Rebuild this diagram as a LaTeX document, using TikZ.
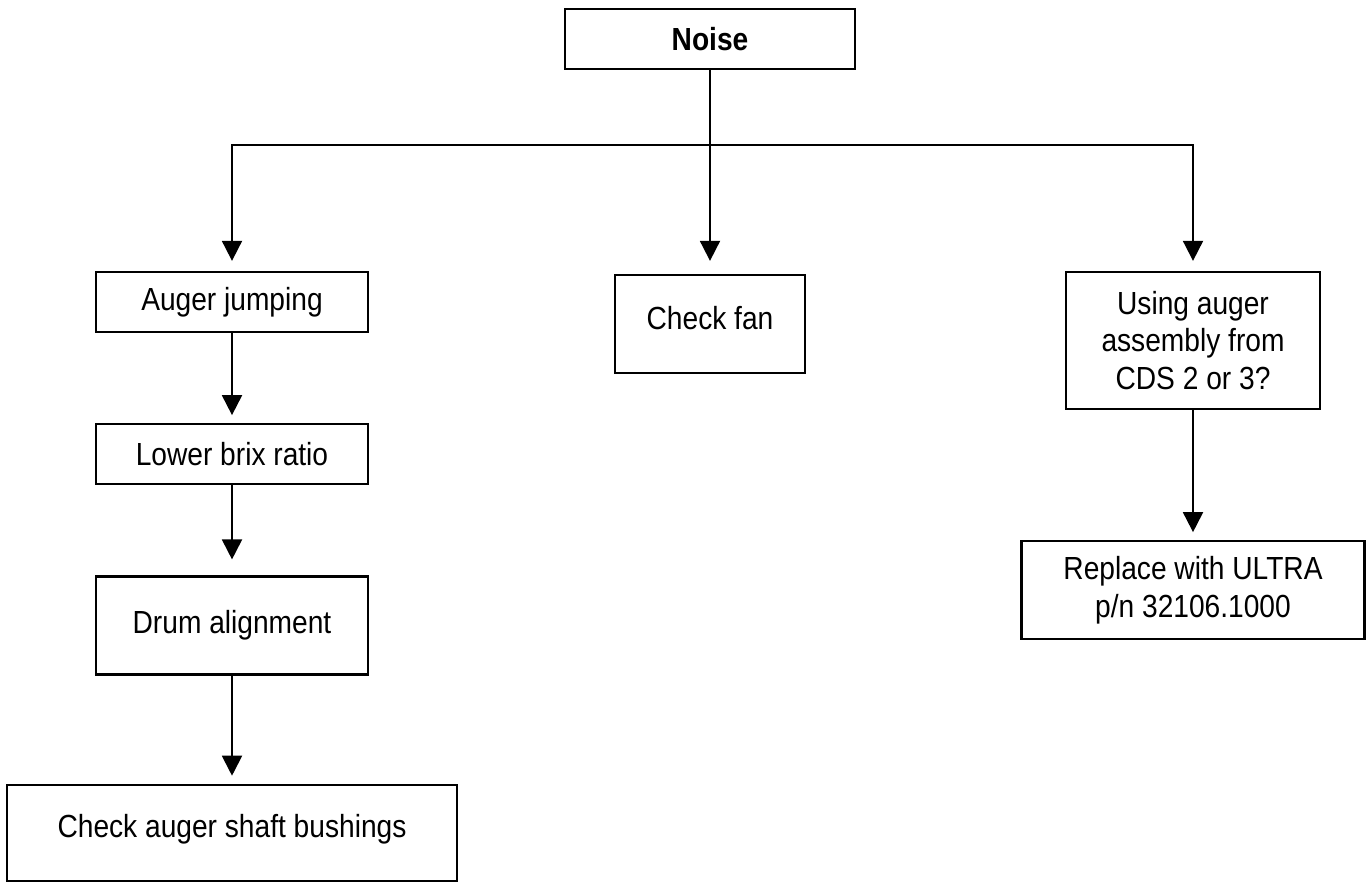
\documentclass[tikz,border=0pt]{standalone}
\usepackage{fontspec}
\setmainfont[FakeStretch=0.88]{Liberation Sans}
\usetikzlibrary{arrows.meta,positioning}

\begin{document}
\begin{tikzpicture}[
  box/.style={draw, line width=1.3pt, align=center, minimum width=5.44cm, minimum height=1.2cm, inner sep=2pt, font=\fontsize{18.2}{21.3}\selectfont},
  arr/.style={-{Triangle[length=0.4cm, width=0.4cm]}, line width=1.1pt, shorten >=0.16cm}
]
\useasboundingbox (0,0) rectangle (27.34,17.72);

\node[box, minimum width=5.8cm, font=\fontsize{18.2}{21.3}\selectfont\bfseries] (n) at (14.2,16.94) {Noise};
\coordinate (bus) at (0,14.82);

% left branch
\node[box] (aj) at (4.64,11.68) {Auger jumping};
\node[box, below=1.8cm of aj] (lb) {Lower brix ratio};
\node[box, below=1.8cm of lb, minimum height=1.96cm] (da) {Drum alignment};
\node[box, below=2.16cm of da, minimum width=9cm, minimum height=1.92cm, text depth=0.29cm] (cb) {Check auger shaft bushings};

% middle and right branch
\node[box, minimum width=3.8cm, minimum height=1.96cm, text depth=0.24cm] (f) at (14.2,11.24) {Check fan};
\node[box, minimum width=5.08cm, minimum height=2.74cm] (uq) at (23.86,10.91) {Using auger\\assembly from\\CDS 2 or 3?};
\node[box, below=2.6cm of uq, minimum width=6.86cm, minimum height=1.96cm] (rp) {Replace with ULTRA\\p/n 32106.1000};

\draw[arr, shorten >=0.2cm] (n.south |- bus) -| (aj.north);
\draw[arr, shorten >=0.2cm] (n.south |- bus) -| (uq.north);
\draw[arr, shorten >=0.26cm] (n) -- (f);

\draw[arr] (aj) -- (lb);
\draw[arr, shorten >=0.32cm] (lb) -- (da);
\draw[arr] (da.south) -- (da.south |- cb.north);
\draw[arr] (uq) -- (rp);
\end{tikzpicture}
\end{document}
